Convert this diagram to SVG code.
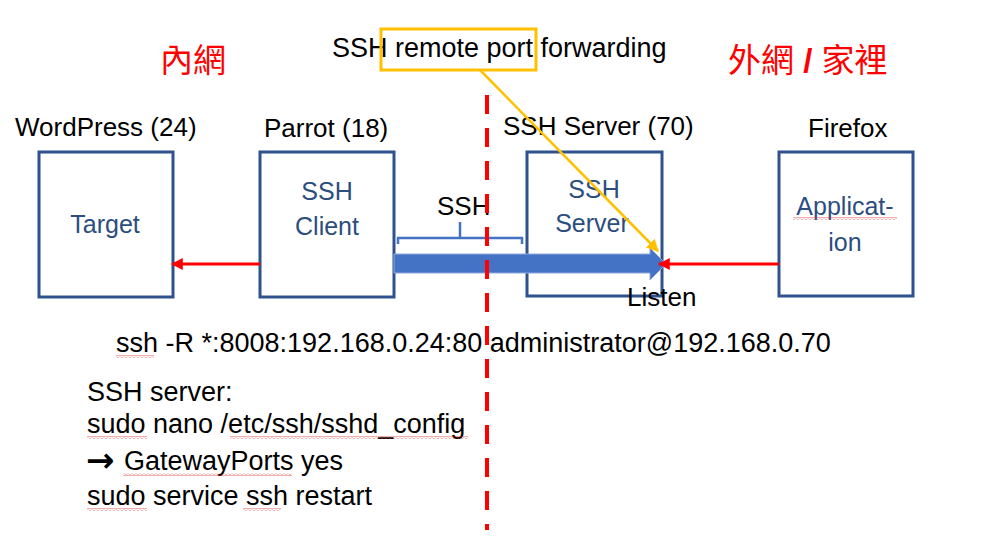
<svg xmlns="http://www.w3.org/2000/svg" width="1000" height="554" viewBox="0 0 1000 554">
<style>
.box{fill:#fff;stroke:#2F528F;stroke-width:3}
.lbl{font-family:"Liberation Sans",Arial,sans-serif;font-size:25px;fill:#2B4E7F;text-anchor:middle}
.hdr{font-family:"Liberation Sans",Arial,sans-serif;font-size:26px;fill:#000}
.txt{font-family:"Liberation Sans",Arial,sans-serif;font-size:27px;fill:#000}
.arr{font-family:"DejaVu Sans",sans-serif;font-size:34px;font-weight:bold;fill:#000}
.cjk{font-family:"Liberation Sans","Noto Sans CJK TC",sans-serif;font-size:33px;fill:#FF0000}
.red{stroke:#FF0000;stroke-width:3;fill:none}
.sq{fill:url(#wave)}
</style>
<defs>
<marker id="redArrow" viewBox="0 0 10 10" refX="9" refY="5" markerWidth="4" markerHeight="4" orient="auto" markerUnits="strokeWidth">
<path d="M0,0 L10,5 L0,10 z" fill="#FF0000"/>
</marker>
<marker id="orgArrow" viewBox="0 0 10 10" refX="9" refY="5" markerWidth="5" markerHeight="5" orient="auto" markerUnits="strokeWidth">
<path d="M0,0 L10,5 L0,10 z" fill="#FFC000"/>
</marker>
<pattern id="wave" patternUnits="userSpaceOnUse" width="4" height="3">
<path d="M0,2.5 L2,0.5 L4,2.5" fill="none" stroke="#E03030" stroke-width="0.8"/>
</pattern>
</defs>
<rect width="1000" height="554" fill="#fff"/>

<text class="cjk" x="160" y="72">內網</text>
<text class="cjk" x="728" y="72">外網 <tspan font-weight="bold">/</tspan> 家裡</text>

<g id="title">
<text class="txt" x="332" y="57">SSH remote port forwarding</text>
<rect x="381" y="29" width="155" height="41" fill="none" stroke="#FFC000" stroke-width="3"/>
</g>

<g id="target">
<text class="hdr" x="15" y="136">WordPress (24)</text>
<rect class="box" x="39" y="152" width="134" height="145"/>
<text class="lbl" x="105" y="233">Target</text>
</g>
<g id="parrot">
<text class="hdr" x="264" y="137">Parrot (18)</text>
<rect class="box" x="260" y="152" width="134" height="145"/>
<text class="lbl" x="327" y="200">SSH</text>
<text class="lbl" x="327" y="235">Client</text>
</g>
<g id="sshserver">
<text class="hdr" x="503" y="135">SSH Server (70)</text>
<rect class="box" x="527" y="152" width="135" height="144"/>
<text class="lbl" x="594" y="198">SSH</text>
<text class="lbl" x="592" y="232">Server</text>
</g>
<g id="firefox">
<text class="hdr" x="808" y="137">Firefox</text>
<rect class="box" x="779" y="152" width="134" height="144"/>
<text class="lbl" x="845" y="215">Applicat-</text>
<text class="lbl" x="845" y="251">ion</text>
<rect class="sq" x="793" y="217" width="104" height="3"/>
</g>

<g id="connectors">
<text class="hdr" x="437" y="215">SSH</text>
<path d="M398,244 V238 H460 V222 M460,238 H522 V244" fill="none" stroke="#4472C4" stroke-width="2.5"/>
<polygon points="394,254 650,254 650,248 666,264 650,280 650,273 394,273" fill="#4472C4" stroke="#8FAADC" stroke-width="1"/>
<line class="red" x1="260" y1="264" x2="172" y2="264" marker-end="url(#redArrow)"/>
<line class="red" x1="779" y1="264" x2="659" y2="264" marker-end="url(#redArrow)"/>
<line x1="487" y1="95" x2="487" y2="530" stroke="#FF0000" stroke-width="4" stroke-dasharray="19,14"/>
<line x1="480" y1="70" x2="658" y2="251" stroke="#FFC000" stroke-width="2.5" marker-end="url(#orgArrow)"/>
</g>

<text class="hdr" x="627" y="306">Listen</text>

<g id="commands">
<text class="txt" x="116" y="352">ssh -R *:8008:192.168.0.24:80 administrator@192.168.0.70</text>
<text class="txt" x="87" y="401">SSH server:</text>
<text class="txt" x="87" y="433">sudo nano /etc/ssh/sshd_config</text>
<text class="arr" x="86" y="472">→</text>
<text class="txt" x="124" y="470">GatewayPorts yes</text>
<text class="txt" x="87" y="505">sudo service ssh restart</text>
<rect class="sq" x="116" y="355" width="38" height="3"/>
<rect class="sq" x="87" y="436" width="60" height="3"/>
<rect class="sq" x="230" y="436" width="238" height="3"/>
<rect class="sq" x="123" y="473" width="169" height="3"/>
<rect class="sq" x="87" y="508" width="60" height="3"/>
<rect class="sq" x="243" y="508" width="38" height="3"/>
</g>
</svg>
